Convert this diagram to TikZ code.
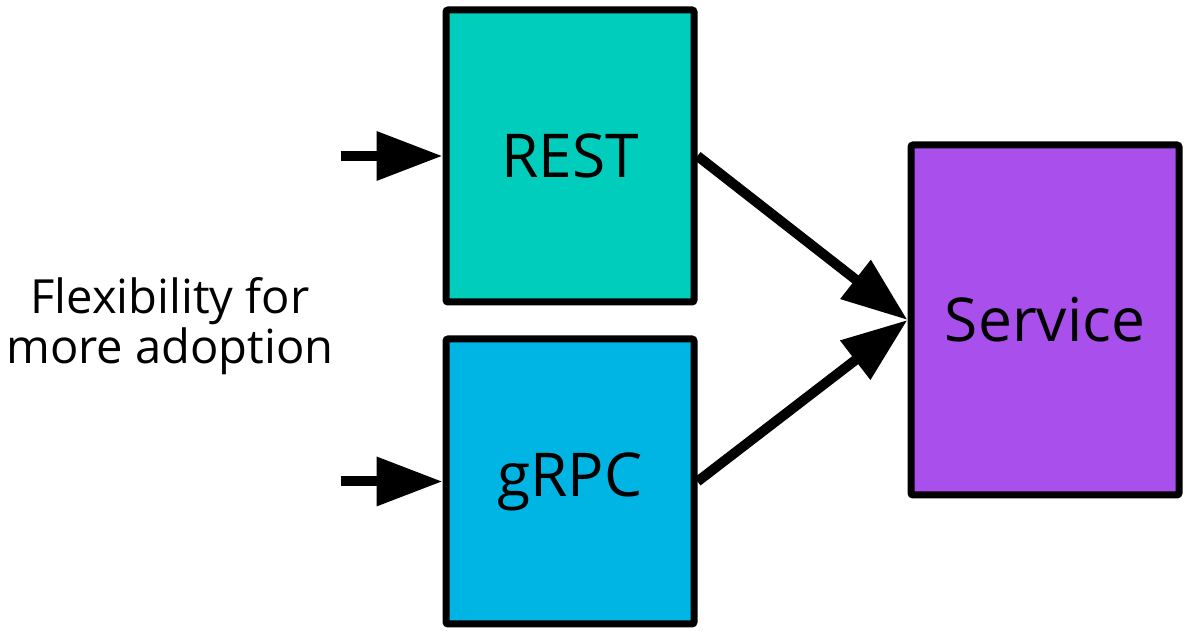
\documentclass[tikz,border=0pt]{standalone}
\usepackage{fontspec}
\setmainfont{Open Sans}
\usetikzlibrary{%
	arrows.meta,%
	positioning%
}
\definecolor{resttel}{HTML}{00CDBB}
\definecolor{grpcblue}{HTML}{00B4E4}
\definecolor{servpurple}{HTML}{A94FEC}

\begin{document}
\begin{tikzpicture}[>={Triangle[length=0.66cm,width=0.47cm]},
	box/.style={draw=black,line width=0.07cm,rounded corners=0.6pt,
		inner sep=0pt,font=\fontsize{17.2}{20}\selectfont},
	flow/.style={->,line width=0.1cm}]
				\useasboundingbox (0,0) rectangle (12,6.33);
				
				% Boxes
				\node[box,fill=resttel,minimum width=2.48cm,minimum height=2.92cm] (rest) at (5.70,4.77) {REST};
				\node[box,fill=grpcblue,minimum width=2.48cm,minimum height=2.85cm] (grpc) at (5.70,1.515) {gRPC};
				\node[box,fill=servpurple,minimum width=2.68cm,minimum height=3.50cm] (service) at (10.45,3.13) {Service};
				
				% Label
				\node[align=center,font=\fontsize{13.4}{12.9}\selectfont] (flex) at (1.70,3.07) {Flexibility for\\more adoption};
				
				% Inputs
				\coordinate[left=1.02cm of rest.west] (inrest);
				\coordinate[left=1.02cm of grpc.west] (ingrpc);
				\draw[flow] (inrest) -- (rest.west);
				\draw[flow] (ingrpc) -- (grpc.west);
				
				% To the service
				\foreach \src in {rest,grpc}
				\draw[flow] (\src.east) -- (service.west);
			\end{tikzpicture}
\end{document}
